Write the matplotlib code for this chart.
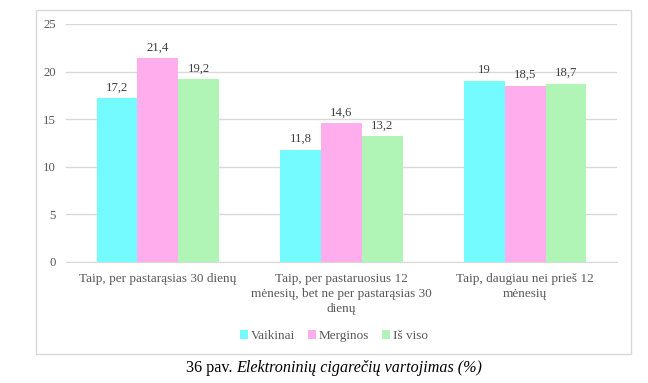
import matplotlib
matplotlib.use("Agg")
import matplotlib.pyplot as plt
import numpy as np
from matplotlib.patches import Rectangle

categories = ["Taip, per pastarąsias 30 dienų",
              "Taip, per pastaruosius 12\nmėnesių, bet ne per pastarąsias 30\ndienų",
              "Taip, daugiau nei prieš 12\nmėnesių"]
series_names = ["Vaikinai", "Merginos", "Iš viso"]
vaikinai = [17.2, 11.8, 19.0]
merginos = [21.4, 14.6, 18.5]
is_viso = [19.2, 13.2, 18.7]
value_labels = [["17,2", "11,8", "19"], ["21,4", "14,6", "18,5"], ["19,2", "13,2", "18,7"]]
yticks = [0, 5, 10, 15, 20, 25]
colors = ["#74FBFF", "#FFADEC", "#B0F5B6"]

plt.rcParams['font.family'] = ['Liberation Serif', 'DejaVu Serif']

fig = plt.figure(figsize=(6.48, 3.83), dpi=100)
fig.patches.append(Rectangle((35.7/648, 1-353.7/383), 595/648, 344/383,
                             transform=fig.transFigure, fill=False,
                             edgecolor="#D9D9D9", linewidth=1.0))
ax = fig.add_axes([66/648, 1-262/383, 551/648, 238/383])

x = np.arange(len(categories))
w = 0.222
data = [vaikinai, merginos, is_viso]
for i, (vals, c, name) in enumerate(zip(data, colors, series_names)):
    pos = x + (i-1)*w
    ax.bar(pos, vals, width=w, color=c, label=name, zorder=3)
    for p, v, lab in zip(pos, vals, value_labels[i]):
        ax.text(p, v + 0.5, lab, ha="center", va="bottom", fontsize=9.2, color="#404040")

ax.set_xlim(-0.5, 2.5)
ax.set_ylim(0, 25)
ax.set_yticks(yticks)
ax.set_yticklabels([str(t) for t in yticks], fontsize=9.2, color="#595959")
ax.set_xticks(x)
ax.set_xticklabels(categories, fontsize=9.5, color="#595959", linespacing=1.32, va="top")
ax.tick_params(axis="both", length=0)
ax.tick_params(axis="y", pad=7.2)
ax.tick_params(axis="x", pad=8.0)
ax.grid(axis="y", color="#D9D9D9", linewidth=1, zorder=0)
for s in ["left", "right", "top"]:
    ax.spines[s].set_visible(False)
ax.spines["bottom"].set_color("#D9D9D9")
ax.set_facecolor("none")

handles, labels = ax.get_legend_handles_labels()
fig.legend(handles, labels, loc="center", bbox_to_anchor=(334/648, 1-336/383), ncol=3,
           frameon=False, fontsize=9.5, handlelength=0.6, handleheight=0.6,
           handletextpad=0.2, columnspacing=1.0, labelcolor="#595959")

t1 = fig.text(0, 1-368/383, "36 pav. ", va="center", fontsize=11.6, color="black")
t2 = fig.text(0, 1-368/383, "Elektroninių cigarečių vartojimas (%)", va="center",
              fontsize=11.6, color="black", style="italic")
fig.canvas.draw()
r = fig.canvas.get_renderer()
b1 = t1.get_window_extent(r)
b2 = t2.get_window_extent(r)
total = b1.width + b2.width
start = 334 - total/2
t1.set_x(start/648)
t2.set_x((start + b1.width)/648)

fig.savefig("out.png", dpi=100)
